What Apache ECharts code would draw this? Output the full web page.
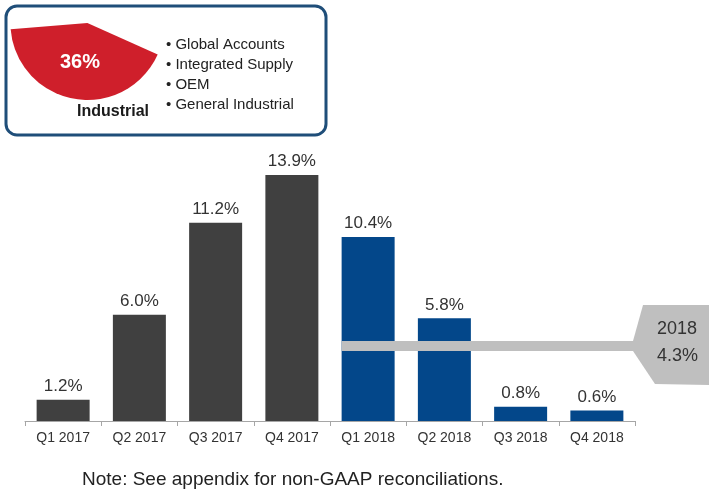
<!DOCTYPE html>
<html>
<head>
<meta charset="utf-8">
<script src="https://cdn.jsdelivr.net/npm/echarts@6/dist/echarts.min.js"></script>
<style>html,body{margin:0;padding:0;background:#fff}#c{width:709px;height:491px}</style>
</head>
<body>
<div id="c"></div>
<script>
var categories = ['Q1 2017','Q2 2017','Q3 2017','Q4 2017','Q1 2018','Q2 2018','Q3 2018','Q4 2018'];
var values = [1.2, 6.0, 11.2, 13.9, 10.4, 5.8, 0.8, 0.6];
var segmentShare = 36;
var segmentName = 'Industrial';
var bullets = ['Global Accounts','Integrated Supply','OEM','General Industrial'];
var refYear = '2018';
var refValue = 4.3;
var refStartCategory = 'Q1 2018';
var note = 'Note: See appendix for non-GAAP reconciliations.';

var FONT = '"Liberation Sans", Arial, sans-serif';
var BAR_W = 53;
var chart = echarts.init(document.getElementById('c'));

chart.setOption({
  animation: false,
  grid: {left: 25, right: 74, top: 155.5, bottom: 70},
  xAxis: {
    type: 'category', data: categories,
    axisLine: {lineStyle: {color: '#a6a6a6', width: 1}},
    axisTick: {show: true, length: 5, lineStyle: {color: '#a6a6a6'}},
    axisLabel: {color: '#333', fontSize: 14, fontFamily: FONT, margin: 10}
  },
  yAxis: {type: 'value', min: 0, max: 15, show: false, splitLine: {show: false}},
  series: [
    {
      type: 'bar', barWidth: BAR_W,
      data: values.map(function (v, i) {
        return {value: v, itemStyle: {color: categories[i].indexOf('2017') >= 0 ? '#404040' : '#03478a'}};
      }),
      label: {show: true, position: 'top', distance: 5, color: '#333', fontSize: 17, fontFamily: FONT,
        formatter: function (p) { return p.value.toFixed(1) + '%'; }},
      z: 2
    }
  ]
});

var yRef = chart.convertToPixel({yAxisIndex: 0}, refValue);
var xStart = chart.convertToPixel({xAxisIndex: 0}, refStartCategory) - BAR_W / 2;
var xEnd = 640;

chart.setOption({
  graphic: [
    {type: 'rect', shape: {x: 6, y: 6, width: 320, height: 129, r: 11},
      style: {fill: 'none', stroke: '#1f4e79', lineWidth: 3}, z: 10},
    {type: 'sector', shape: {cx: 87.4, cy: 23, r: 77, startAngle: 0.42, endAngle: 3.06, clockwise: true},
      style: {fill: '#cf1f2b'}, z: 12},
    {type: 'text', left: 60, top: 52, style: {text: segmentShare + '%', fill: '#fff', font: 'bold 20px ' + FONT}, z: 20},
    {type: 'text', left: 77, top: 104, style: {text: segmentName, fill: '#1a1a1a', font: 'bold 16px ' + FONT}, z: 20},
    {type: 'text', left: 166, top: 35, style: {text: bullets.map(function (b) { return '\u2022 ' + b; }).join('\n'),
      fill: '#222', font: '15px ' + FONT, lineHeight: 20}, z: 20},
    {type: 'rect', shape: {x: xStart, y: yRef - 4, width: xEnd - xStart, height: 10},
      style: {fill: '#bfbfbf'}, z: 30},
    {type: 'polygon', shape: {points: [[643, yRef - 40], [709, yRef - 40], [709, yRef + 40], [655, yRef + 39], [633, yRef + 6], [633, yRef - 4]]},
      style: {fill: '#bfbfbf'}, z: 30},
    {type: 'text', left: 657, top: 316, style: {text: refYear + '\n' + refValue.toFixed(1) + '%', fill: '#333', font: '18px ' + FONT, lineHeight: 27, align: 'left'}, z: 31},
    {type: 'text', left: 82, top: 470, style: {text: note, fill: '#222', font: '19px ' + FONT}, z: 20}
  ]
});
</script>
</body>
</html>
